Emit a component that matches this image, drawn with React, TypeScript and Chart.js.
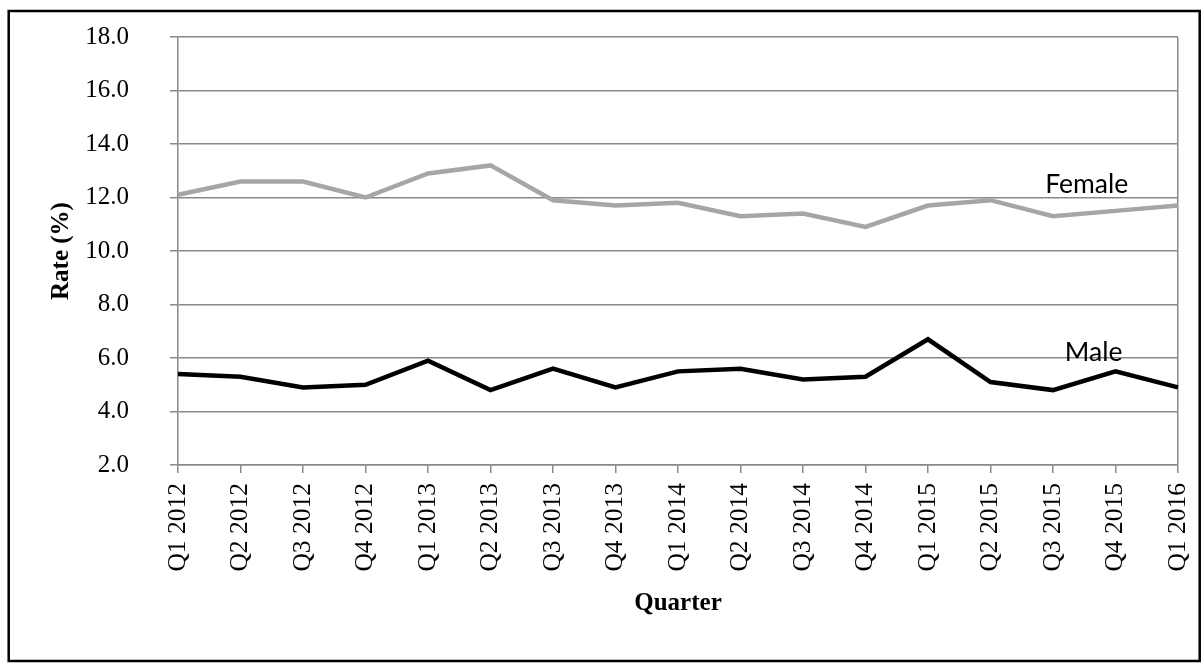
import React, { useEffect, useRef } from "react";
import { Chart, registerables } from "chart.js";

Chart.register(...registerables);

const quarters = [
  "Q1 2012", "Q2 2012", "Q3 2012", "Q4 2012",
  "Q1 2013", "Q2 2013", "Q3 2013", "Q4 2013",
  "Q1 2014", "Q2 2014", "Q3 2014", "Q4 2014",
  "Q1 2015", "Q2 2015", "Q3 2015", "Q4 2015",
  "Q1 2016",
];

const femaleRates = [12.1, 12.6, 12.6, 12.0, 12.9, 13.2, 11.9, 11.7, 11.8, 11.3, 11.4, 10.9, 11.7, 11.9, 11.3, 11.5, 11.7];
const maleRates = [5.4, 5.3, 4.9, 5.0, 5.9, 4.8, 5.6, 4.9, 5.5, 5.6, 5.2, 5.3, 6.7, 5.1, 4.8, 5.5, 4.9];

const yMin = 2;
const yMax = 18;
const yStep = 2;

const seriesNames = ["Female", "Male"];
// label anchor in data space (category index, value)
const labelIndex = [14.54, 14.65];
const labelValue = [12.5, 6.22];

const W = 1203;
const H = 664;
const GRID = "#898989";
const SERIF = "'Liberation Serif', 'Times New Roman', serif";

export default function App() {
  const ref = useRef<HTMLCanvasElement | null>(null);

  useEffect(() => {
    const canvas = ref.current;
    if (!canvas) return;

    const framePlugin = {
      id: "frame",
      afterDraw(chart: any) {
        const ctx = chart.ctx;
        ctx.save();
        ctx.strokeStyle = "#000";
        ctx.lineWidth = 2.5;
        ctx.strokeRect(8.7, 11, 1191, 650);
        ctx.restore();
      },
    };

    const labelPlugin = {
      id: "seriesLabels",
      afterDatasetsDraw(chart: any) {
        const ctx = chart.ctx;
        const xs = chart.scales.x;
        const ys = chart.scales.y;
        ctx.save();
        ctx.font = "26.5px Lato, 'Open Sans', sans-serif";
        ctx.fillStyle = "#000";
        ctx.textAlign = "center";
        ctx.textBaseline = "middle";
        seriesNames.forEach((name, i) => {
          const x = xs.getPixelForValue(labelIndex[i]);
          const y = ys.getPixelForValue(labelValue[i]);
          ctx.fillText(name, x, y);
        });
        ctx.restore();
      },
    };

    const chart = new Chart(canvas, {
      type: "line",
      data: {
        labels: quarters,
        datasets: [
          {
            label: "Female",
            data: femaleRates,
            borderColor: "#a6a6a6",
            backgroundColor: "#a6a6a6",
            borderWidth: 4.5,
            pointRadius: 0,
            tension: 0,
          },
          {
            label: "Male",
            data: maleRates,
            borderColor: "#000000",
            backgroundColor: "#000000",
            borderWidth: 4.5,
            pointRadius: 0,
            tension: 0,
          },
        ],
      },
      options: {
        animation: false,
        responsive: false,
        maintainAspectRatio: false,
        layout: { padding: { left: 0, top: 37, right: 25, bottom: 0 } },
        plugins: {
          legend: { display: false },
          tooltip: { enabled: false },
        },
        scales: {
          x: {
            type: "category",
            offset: false,
            grid: {
              display: true,
              drawOnChartArea: true,
              color: (c: any) => (c.index === quarters.length - 1 ? GRID : "rgba(0,0,0,0)"),
              tickColor: GRID,
              tickLength: 8,
              lineWidth: 1.5,
            },
            border: { color: GRID, width: 1.5 },
            ticks: {
              autoSkip: false,
              minRotation: 90,
              maxRotation: 90,
              padding: 10,
              color: "#000",
              font: { family: SERIF, size: 25.5 },
            },
            title: {
              display: true,
              text: "Quarter",
              color: "#000",
              font: { family: SERIF, size: 25, weight: "bold" },
              padding: { top: 0, bottom: 45 },
            },
            afterFit: (s: any) => {
              s.height = 199;
              s.paddingLeft = 0;
              s.paddingRight = 0;
            },
          },
          y: {
            min: yMin,
            max: yMax,
            grid: { color: GRID, lineWidth: 1.5, tickLength: 8 },
            border: { color: GRID, width: 1.5 },
            ticks: {
              stepSize: yStep,
              padding: 41,
              color: "#000",
              font: { family: SERIF, size: 25 },
              callback: (v: any) => Number(v).toFixed(1),
            },
            title: {
              display: true,
              text: "Rate (%)",
              color: "#000",
              font: { family: SERIF, size: 25, weight: "bold" },
              padding: { top: 47, bottom: 0 },
            },
            afterFit: (s: any) => {
              s.width = 178;
              s.paddingTop = 0;
              s.paddingBottom = 0;
            },
          },
        },
      } as any,
      plugins: [framePlugin, labelPlugin],
    });

    return () => chart.destroy();
  }, []);

  return (
    <div style={{ position: "fixed", left: 0, top: 0, width: W, height: H, background: "#fff" }}>
      <canvas ref={ref} width={W} height={H} style={{ display: "block", width: W, height: H }} />
    </div>
  );
}
